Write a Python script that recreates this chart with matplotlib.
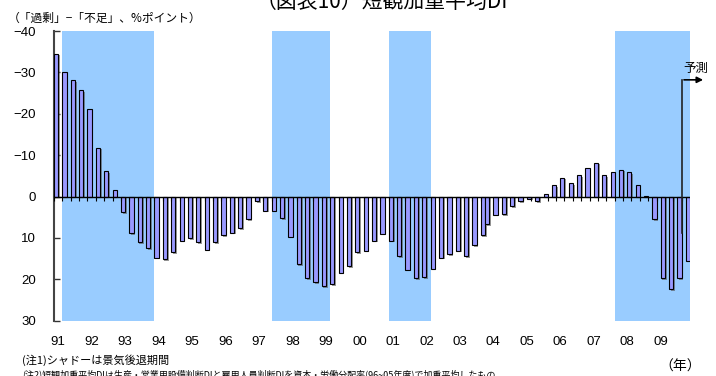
import numpy as np
import matplotlib
matplotlib.use("Agg")
import matplotlib.pyplot as plt
import matplotlib.patheffects as pe

plt.rcParams['font.family'] = ['Liberation Sans', 'Noto Sans CJK JP']

# 1991Q1 .. 2009Q4, old basis (to 2003Q4) and new basis (from 2003Q4)
year_labels = ['91', '92', '93', '94', '95', '96', '97', '98', '99', '00',
               '01', '02', '03', '04', '05', '06', '07', '08', '09']
old_basis = [-34.5, -30.1, -28.1, -25.7, -21.1, -11.8, -6.1, -1.5,
             3.8, 8.8, 11.1, 12.4, 14.8, 15.1, 13.4, 10.7,
             10.1, 11.1, 12.8, 11.1, 9.4, 8.7, 7.7, 5.4,
             1.1, 3.4, 3.4, 5.2, 9.7, 16.4, 19.8, 20.7,
             21.7, 21.1, 18.4, 16.8, 13.4, 13.1, 10.7, 9.0,
             10.7, 14.4, 17.7, 19.8, 19.5, 17.4, 14.8, 14.0,
             13.1, 14.4, 11.7, 9.4]
new_basis = [6.6, 4.4, 4.2, 2.4, 1.1, 0.5, 1.1, -0.6,
             -2.7, -4.6, -3.3, -5.2, -7.0, -8.2, -5.2, -5.9,
             -6.5, -5.9, -2.7, -0.2, 5.4, 19.8, 22.4, 19.8,
             15.5]
new_start = 51          # index of 2003Q4
# recession periods as (first quarter index, last quarter index)
recessions = [(1, 11), (26, 32), (40, 44), (67, 75)]
forecast_idx = 75

W, H = 716, 376
fig = plt.figure(figsize=(W / 100, H / 100), dpi=100)
ax = fig.add_axes([54 / W, 1 - 320.7 / H, (690 - 54) / W, (320.7 - 31) / H])

n = len(year_labels) * 4
for a, b in recessions:
    ax.axvspan(a - 0.5, b + 0.5, color='#99CCFF', lw=0, zorder=0)

shadow = [pe.SimplePatchShadow(offset=(1.2, -1.2), shadow_rgbFace='#555555', alpha=0.6), pe.Normal()]
x_old = np.arange(len(old_basis))
x_new = np.arange(new_start, new_start + len(new_basis))
b1 = ax.bar(x_old - 0.25, old_basis, width=0.5, color='#9999FF', edgecolor='black', lw=0.8, zorder=3)
b2 = ax.bar(x_new + 0.25, new_basis, width=0.5, color='#9999FF', edgecolor='black', lw=0.8, zorder=3)
for p in list(b1) + list(b2):
    p.set_path_effects(shadow)

ax.axhline(0, color='black', lw=1.0, zorder=4)
ax.vlines(np.arange(-0.5, n), 0, 1.0, color='black', lw=0.8, zorder=4)

ax.set_xlim(-0.5, n - 0.5)
ax.set_ylim(30, -40)
yt = np.arange(-40, 31, 10)
ax.set_yticks(yt)
ax.set_yticklabels([str(v).replace('-', '\u2212') for v in yt], fontsize=9.5)
ax.tick_params(axis='y', direction='in', length=4, width=1, pad=13, color='#333333')
ax.set_xticks(np.arange(0, n, 4))
ax.set_xticklabels(year_labels, fontsize=9.5)
ax.tick_params(axis='x', length=0, pad=11)
for s in ['top', 'right', 'bottom']:
    ax.spines[s].set_visible(False)
ax.spines['left'].set_color('#444444')
ax.spines['left'].set_linewidth(1.5)

# forecast marker
fx = forecast_idx - 0.5
ax.plot([fx, fx], [8.8, -28.2], color='#222222', lw=1.2, zorder=5, clip_on=False)
ax.annotate('', xy=(77.4, -28.2), xytext=(fx - 0.05, -28.2),
            arrowprops=dict(arrowstyle='-|>', color='black', lw=1.2, mutation_scale=9),
            annotation_clip=False, zorder=5)
fig.text(696 / W, 1 - 68 / H, '予測', ha='center', va='center', fontsize=9,
         family=['Noto Sans CJK JP'])

fig.text(256 / W, 1 - 8 / H, '（図表10）短観加重平均DI', ha='left', va='baseline',
         fontsize=15, family=['Noto Sans CJK JP'])
fig.text(8 / W, 1 - 18 / H, '（「過剰」−「不足」、%ポイント）', ha='left', va='center',
         fontsize=8.5, family=['Noto Sans CJK JP'])
fig.text(22 / W, 1 - 360 / H, '(注1)シャドーは景気後退期間', ha='left', va='center',
         fontsize=8, family=['Noto Sans CJK JP'])
fig.text(22 / W, 1 - 374 / H,
         '(注2)短観加重平均DIは生産・営業用設備判断DIと雇用人員判断DIを資本・労働分配率(96~05年度)で加重平均したもの',
         ha='left', va='center', fontsize=6.5, family=['Noto Sans CJK JP'])
fig.text(680 / W, 1 - 367 / H, '（年）', ha='center', va='center', fontsize=10,
         family=['Noto Sans CJK JP'])

fig.savefig('out.png', dpi=100)
